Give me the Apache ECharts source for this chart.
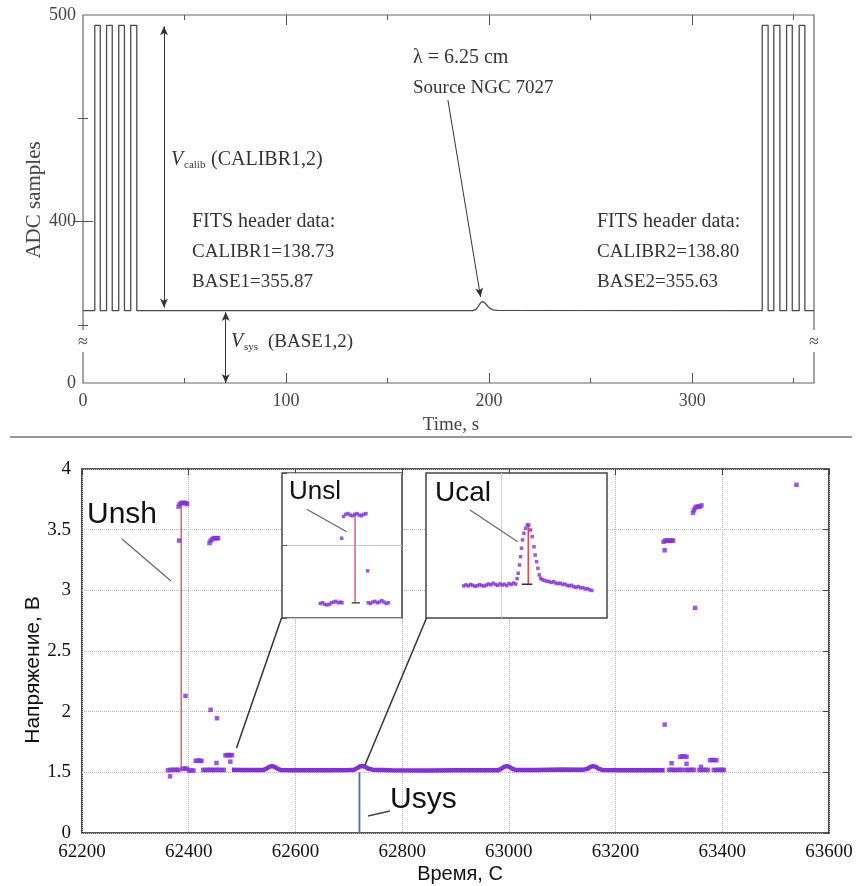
<!DOCTYPE html>
<html><head><meta charset="utf-8">
<script src="https://cdn.jsdelivr.net/npm/echarts@6/dist/echarts.min.js"></script>
<style>html,body{margin:0;padding:0;background:#fff}#c{width:857px;height:886px}</style>
</head><body><div id="c"></div><script>
// ---------- TOP PANEL DATA (time s, ADC samples) ----------
const topTrace = [[0,357],[5.8,357],[5.8,495],[8.5,495],[8.5,357],[11.6,357],[11.6,495],[14.4,495],[14.4,357],
  [17.6,357],[17.6,495],[20.4,495],[20.4,357],[23.5,357],[23.5,495],[26.5,495],[26.5,357],
  [192,357],[193.5,357.6],[194.5,358.8],[195.5,360.4],[196.5,361.3],[197.5,361.1],[198.5,360.1],[199.5,358.9],[200.5,358],[202,357.4],[204,357.1],
  [334.5,357],[334.5,495],[337.4,495],[337.4,357],[340.2,357],[340.2,495],[343.2,495],[343.2,357],
  [346.5,357],[346.5,495],[349.3,495],[349.3,357],[352.7,357],[352.7,495],[355.5,495],[355.5,357],[360,357]];
const topXLabels = [0,100,200,300];
const topYLabels = [322,400,500];   // 322 is the broken-axis bottom, shown as "0"
const calibArrow = [[39.9,358.5],[39.9,494.5]];
const sysArrow = [[70.3,356.3],[70.3,322]];
const sourceArrow = [[179.7,458.9],[195.8,363.6]];

// ---------- BOTTOM PANEL DATA (time, volts) ----------
const mainTrace = [[62481,1.521],[62500,1.519],[62520,1.52],[62540,1.52],[62546,1.53],[62551,1.545],[62556,1.552],[62561,1.545],[62566,1.53],[62572,1.52],
  [62600,1.518],[62650,1.517],[62700,1.52],[62710,1.522],[62716,1.535],[62721,1.55],[62726,1.553],[62731,1.545],[62737,1.53],[62745,1.522],
  [62780,1.518],[62850,1.516],[62900,1.517],[62950,1.517],[62980,1.518],[62986,1.53],[62991,1.545],[62996,1.552],[63001,1.545],[63006,1.53],[63012,1.52],
  [63050,1.52],[63100,1.524],[63140,1.522],[63148,1.53],[63153,1.545],[63158,1.552],[63163,1.545],[63168,1.53],[63175,1.52],[63220,1.518],[63292,1.518]];
const leftPoints = [[62361,1.518],[62365,1.467],[62366,1.52],[62370,1.521],[62374,1.52],[62378,1.521],[62381,1.52],
  [62389,1.53],[62393,1.531],[62397,1.53],[62401,1.515],[62405,1.516],[62409,1.515],
  [62413,1.595],[62417,1.597],[62421,1.596],[62424,1.594],
  [62427,1.52],[62431,1.519],[62435,1.52],[62439,1.521],[62443,1.52],[62446,1.519],[62452,1.577],
  [62450,1.52],[62454,1.521],[62458,1.52],[62462,1.519],[62466,1.52],
  [62469,1.64],[62472,1.642],[62475,1.643],[62478,1.641],[62481,1.642],[62478,1.588],
  [62381,3.69],[62383,3.71],[62386,3.72],[62389,3.72],[62392,3.72],[62395,3.72],[62397,3.71],[62382,3.41],[62394,2.13],
  [62439,3.39],[62441,3.41],[62444,3.42],[62447,3.43],[62450,3.43],[62453,3.43],[62455,3.43],[62441,2.016],[62453,1.946]];
const rightPoints = [[63290,3.40],[63293,3.41],[63296,3.41],[63299,3.41],[63302,3.41],[63305,3.41],[63308,3.41],[63292,3.33],[63292,1.894],
  [63345,3.64],[63347,3.66],[63349,3.68],[63352,3.69],[63355,3.69],[63358,3.69],[63361,3.70],[63349,2.855],[63539,3.87],
  [63300,1.52],[63304,1.521],[63308,1.52],[63312,1.519],[63316,1.52],[63320,1.521],[63324,1.52],[63305,1.575],
  [63321,1.628],[63325,1.631],[63329,1.63],[63333,1.629],[63333,1.57],
  [63331,1.52],[63335,1.519],[63339,1.52],[63343,1.521],[63347,1.52],
  [63357,1.52],[63361,1.519],[63365,1.52],[63369,1.521],[63373,1.52],[63360,1.545],
  [63377,1.6],[63381,1.602],[63385,1.601],[63389,1.6],
  [63384,1.52],[63388,1.519],[63392,1.52],[63396,1.521],[63400,1.52],[63403,1.52]];
const unshLine = [[62386,1.515],[62386,3.71]];
const usysLine = [[62720,1.0],[62720,1.5]];
const mainXLabels = [62200,62400,62600,62800,63000,63200,63400,63600];
const mainYLabels = ['0','1.5','2','2.5','3','3.5','4'];

// ---------- INSET "Unsl" (relative samples, volts) ----------
const unslPoints = [[25.5,1.520],[27,1.521],[28.5,1.519],[30,1.518],[31.5,1.519],[33,1.521],[34.5,1.522],[36,1.523],[37.5,1.521],[39,1.522],[40,1.521],
  [41,1.640],[42.5,1.643],[44,1.644],[45.5,1.642],[47,1.641],[48.5,1.643],[50,1.644],[51.5,1.642],[53,1.641],[54.5,1.643],[56,1.644],
  [39.8,1.61],[57.1,1.565],
  [57.5,1.521],[59,1.520],[60.5,1.522],[62,1.523],[63.5,1.521],[65,1.522],[66.5,1.524],[68,1.522],[69.5,1.520],[71,1.521]];
const unslStep = [[48.7,1.521],[48.7,1.642]];
const unslBase = [[46.5,1.521],[52,1.521]];

// ---------- INSET "Ucal" ----------
const ucalPoints = [[25,1.5205],[26.5,1.5210],[28,1.5205],[29.5,1.5212],[31,1.5208],[32.5,1.5203],[34,1.5206],[35.5,1.5211],[37,1.5207],[38.5,1.5204],
  [40,1.5209],[41.5,1.5214],[43,1.5210],[44.5,1.5218],[46,1.5212],[47.5,1.5208],[49,1.5215],[50.5,1.5209],[52,1.5213],[53.5,1.5207],
  [55,1.5216],[56.5,1.5212],[58,1.5219],[59.5,1.5214],
  [60.4,1.524],[61.1,1.5266],[62,1.5306],[62.7,1.5346],[63.3,1.5387],[64,1.5427],[64.9,1.5459],[66,1.5483],[67.1,1.5499],[68.2,1.5499],
  [69.3,1.5475],[70.4,1.5443],[71.6,1.5394],[72.4,1.5354],[73.3,1.5322],[74.2,1.529],[75.1,1.5258],[76,1.5242],
  [77,1.5235],[78.5,1.5232],[80,1.5228],[81.5,1.5226],[83,1.5222],[84.5,1.5225],[86,1.5219],[87.5,1.5216],[89,1.5218],[90.5,1.5212],
  [92,1.5214],[93.5,1.5208],[95,1.5205],[96.5,1.5208],[98,1.5201],[99.5,1.5198],[101,1.5202],[102.5,1.5195],[104,1.5197],[105.5,1.5190],
  [107,1.5192],[108.5,1.5186],[110,1.5183]];
const ucalPeak = [[67.8,1.5213],[67.8,1.5499]];
const ucalBase = [[63.5,1.5213],[70.5,1.5213]];

// ---------- STYLE ----------
const SERIF = '"Liberation Serif","DejaVu Serif",serif';
const SANS = '"Liberation Sans","Arial",sans-serif';
const PURPLE = '#8230dc';
const PINK = '#e0687f';
const GRAY = '#4a4a4a';

function txt(x, y, text, size, o) {
  o = o || {};
  return {type:'text', x:x, y:y, z:100, rotation:o.rot||0, silent:true,
    style:{text:text, font:(o.italic?'italic ':'')+size+'px '+(o.fam||SERIF), fill:o.fill||'#333',
      textAlign:o.align||'left', textVerticalAlign:'middle'}};
}
function seg(x1,y1,x2,y2,c,w){return {type:'line',z:99,silent:true,shape:{x1:x1,y1:y1,x2:x2,y2:y2},style:{stroke:c,lineWidth:w}};}

function tickAxis(extra){return Object.assign({type:'value', axisLine:{show:false}, axisLabel:{show:false}, splitLine:{show:false}}, extra);}

const chart = echarts.init(document.getElementById('c'), null, {renderer:'canvas'});
chart.setOption({
  animation:false,
  backgroundColor:'#fff',
  grid:[
    {left:83, top:15, width:731, height:368, show:true, borderColor:'#666', borderWidth:1.2, backgroundColor:'transparent'},
    {left:82, top:469, width:747, height:364, show:true, borderColor:'#222', borderWidth:1.6, backgroundColor:'transparent'},
    {left:282, top:473, width:120, height:145, show:true, borderColor:'#444', borderWidth:1.5, backgroundColor:'#fff', z:5},
    {left:426, top:473, width:181, height:145, show:true, borderColor:'#444', borderWidth:1.5, backgroundColor:'#fff', z:5}
  ],
  xAxis:[
    tickAxis({gridIndex:0, min:0, max:360, position:'bottom',
      axisTick:{inside:true, length:10, customValues:[100,200,300], lineStyle:{color:'#555'}},
      axisLabel:{show:true, customValues:topXLabels, margin:9, fontFamily:SERIF, fontSize:18, color:'#444'}}),
    tickAxis({gridIndex:0, min:0, max:360, position:'bottom', axisTick:{inside:true, length:5, customValues:[50,150,250,350], lineStyle:{color:'#555'}}}),
    tickAxis({gridIndex:0, min:0, max:360, position:'top', axisTick:{inside:true, length:10, customValues:[100,200,300], lineStyle:{color:'#555'}}}),
    tickAxis({gridIndex:0, min:0, max:360, position:'top', axisTick:{inside:true, length:5, customValues:[50,150,250,350], lineStyle:{color:'#555'}}}),
    {type:'value', gridIndex:1, min:62200, max:63600, interval:200, position:'bottom',
      axisLine:{show:false}, axisTick:{show:false},
      axisLabel:{margin:10, fontFamily:SERIF, fontSize:19, color:'#111', formatter:function(v){return String(v);}},
      splitLine:{show:true, lineStyle:{type:'dotted', color:'#b5b5b5', width:1}}},
    tickAxis({gridIndex:1, min:62200, max:63600, interval:200, position:'top', axisTick:{inside:true, length:6, lineStyle:{color:'#444'}}}),
    tickAxis({gridIndex:2, min:0, max:80, axisTick:{show:false}}),
    tickAxis({gridIndex:3, min:0, max:120, axisTick:{show:false}})
  ],
  yAxis:[
    tickAxis({gridIndex:0, min:322, max:500, position:'left',
      axisTick:{inside:true, length:10, customValues:[400], lineStyle:{color:'#555'}},
      axisLabel:{show:true, customValues:topYLabels, margin:7, fontFamily:SERIF, fontSize:18, color:'#444',
        formatter:function(v){return v===322?'0':String(v);}}}),
    tickAxis({gridIndex:0, min:322, max:500, position:'left', axisTick:{inside:true, length:5, customValues:[350,450], lineStyle:{color:'#555'}}}),
    tickAxis({gridIndex:0, min:322, max:500, position:'right', axisTick:{inside:true, length:10, customValues:[400], lineStyle:{color:'#555'}}}),
    tickAxis({gridIndex:0, min:322, max:500, position:'right', axisTick:{inside:true, length:5, customValues:[350,450], lineStyle:{color:'#555'}}}),
    {type:'value', gridIndex:1, min:1, max:4, interval:0.5, position:'left',
      axisLine:{show:false}, axisTick:{show:false},
      axisLabel:{margin:11, fontFamily:SERIF, fontSize:19, color:'#111', formatter:function(v){return mainYLabels[Math.round((v-1)/0.5)];}},
      splitLine:{show:true, lineStyle:{type:'dotted', color:'#b5b5b5', width:1}}},
    tickAxis({gridIndex:1, min:1, max:4, interval:0.5, position:'right', axisTick:{inside:true, length:6, lineStyle:{color:'#444'}}}),
    tickAxis({gridIndex:2, min:1.5, max:1.7, interval:0.1, z:6, axisTick:{inside:true, length:5, lineStyle:{color:'#555'}},
      splitLine:{show:true, lineStyle:{color:'#c8c8c8', width:1}}}),
    tickAxis({gridIndex:3, min:1.505, max:1.575, z:6, axisTick:{show:false}})
  ],
  series:[
    {type:'line', xAxisIndex:0, yAxisIndex:0, data:topTrace, symbol:'none', lineStyle:{color:GRAY, width:1.3},
      markLine:{silent:true, symbol:['arrow','arrow'], symbolSize:[6,9], label:{show:false},
        lineStyle:{color:'#333', width:1, type:'solid'},
        data:[
          [{coord:calibArrow[0]},{coord:calibArrow[1]}],
          [{coord:sysArrow[0]},{coord:sysArrow[1]}],
          [{coord:sourceArrow[0], symbol:'none'},{coord:sourceArrow[1], symbol:'arrow'}]
        ]}},
    {type:'line', xAxisIndex:4, yAxisIndex:4, data:mainTrace, symbol:'none', lineStyle:{color:PURPLE, width:4.5}, z:2},
    {type:'scatter', xAxisIndex:4, yAxisIndex:4, data:leftPoints.concat(rightPoints), symbol:'rect', symbolSize:4.5, itemStyle:{color:PURPLE}, z:3},
    {type:'line', xAxisIndex:4, yAxisIndex:4, data:unshLine, symbol:'none', lineStyle:{color:PINK, width:1.6}, z:2},
    {type:'line', xAxisIndex:4, yAxisIndex:4, data:usysLine, symbol:'none', lineStyle:{color:'#4f6fb3', width:1.8}, z:2},
    {type:'scatter', xAxisIndex:6, yAxisIndex:6, data:unslPoints, symbol:'rect', symbolSize:3.5, itemStyle:{color:PURPLE}, z:8},
    {type:'line', xAxisIndex:6, yAxisIndex:6, data:unslStep, symbol:'none', lineStyle:{color:PINK, width:1.6}, z:7},
    {type:'line', xAxisIndex:6, yAxisIndex:6, data:unslBase, symbol:'none', lineStyle:{color:'#333', width:1.3}, z:7},
    {type:'scatter', xAxisIndex:7, yAxisIndex:7, data:ucalPoints, symbol:'rect', symbolSize:3.5, itemStyle:{color:PURPLE}, z:8,
      markLine:{silent:true, symbol:'none', label:{show:false}, lineStyle:{color:'#cfcfcf', width:1, type:'solid'}, data:[{xAxis:50}]}},
    {type:'line', xAxisIndex:7, yAxisIndex:7, data:ucalPeak, symbol:'none', lineStyle:{color:'#e8454f', width:1.6}, z:7},
    {type:'line', xAxisIndex:7, yAxisIndex:7, data:ucalBase, symbol:'none', lineStyle:{color:'#333', width:1.3}, z:7}
  ],
  graphic:[
    // top panel breaks
    {type:'rect', z:98, silent:true, shape:{x:77, y:330, width:12, height:22}, style:{fill:'#fff'}},
    {type:'rect', z:98, silent:true, shape:{x:808, y:330, width:12, height:22}, style:{fill:'#fff'}},
    txt(83, 342, '≈', 18, {align:'center', fill:'#444'}),
    txt(814, 342, '≈', 18, {align:'center', fill:'#444'}),
    // top panel texts
    txt(413, 58, 'λ = 6.25 cm', 20),
    txt(413, 88, 'Source NGC 7027', 19),
    txt(171, 160, 'V', 20, {italic:true}),
    txt(184, 165, 'calib', 11),
    txt(211, 160, '(CALIBR1,2)', 20),
    txt(192, 222, 'FITS header data:', 20),
    txt(192, 252, 'CALIBR1=138.73', 19),
    txt(192, 282, 'BASE1=355.87', 19),
    txt(597, 222, 'FITS header data:', 20),
    txt(597, 252, 'CALIBR2=138.80', 19),
    txt(597, 282, 'BASE2=355.63', 19),
    txt(231, 342, 'V', 20, {italic:true}),
    txt(244, 347, 'sys', 11),
    txt(268, 342, '(BASE1,2)', 19),
    txt(451, 425, 'Time, s', 19, {align:'center', fill:'#444'}),
    txt(34, 200, 'ADC samples', 21, {align:'center', rot:Math.PI/2, fill:'#444'}),
    // separator
    seg(10, 437, 852, 437, '#333', 1.2),
    // bottom panel labels
    txt(87, 515, 'Unsh', 30, {fam:SANS, fill:'#111'}),
    seg(122, 539, 171, 581, '#666', 1.2),
    txt(289, 492, 'Unsl', 26, {fam:SANS, fill:'#111'}),
    seg(306.7, 509.3, 346.7, 531.7, '#666', 1.2),
    txt(435, 493, 'Ucal', 28, {fam:SANS, fill:'#111'}),
    seg(470, 510, 517.7, 541.7, '#666', 1.2),
    txt(390, 800, 'Usys', 30, {fam:SANS, fill:'#111'}),
    seg(368, 816, 390, 811, '#444', 1.4),
    seg(281.5, 618, 236.5, 748, '#333', 1.5),
    seg(426.5, 618, 365, 765, '#333', 1.5),
    txt(460, 874, 'Время, С', 20, {fam:SANS, align:'center', fill:'#111'}),
    txt(33, 670, 'Напряжение, В', 21, {fam:SANS, align:'center', rot:Math.PI/2, fill:'#111'})
  ]
});
</script></body></html>
